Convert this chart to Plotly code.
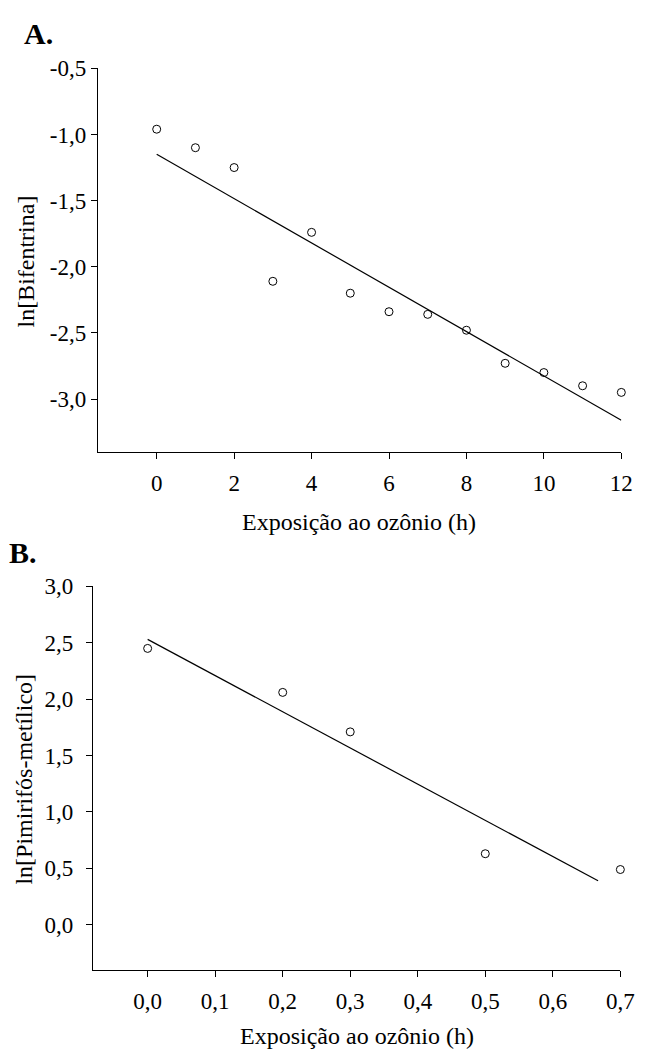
import plotly.graph_objects as go

# Panel A data: ln[Bifentrina] vs ozone exposure (h)
a_hours = [0, 1, 2, 3, 4, 5, 6, 7, 8, 9, 10, 11, 12]
a_ln = [-0.96, -1.10, -1.25, -2.11, -1.74, -2.20, -2.34, -2.36, -2.48, -2.73, -2.80, -2.90, -2.95]
a_fit_x = [0, 12]
a_fit_y = [-1.15, -3.16]

# Panel B data: ln[Pimirifós-metílico] vs ozone exposure (h)
b_hours = [0.0, 0.2, 0.3, 0.5, 0.7]
b_ln = [2.45, 2.06, 1.71, 0.63, 0.49]
b_fit_x = [0.0, 0.667]
b_fit_y = [2.53, 0.39]

a_xticks = [0, 2, 4, 6, 8, 10, 12]
a_xticklabels = ["0", "2", "4", "6", "8", "10", "12"]
a_yticks = [-0.5, -1.0, -1.5, -2.0, -2.5, -3.0]
a_yticklabels = ["-0,5", "-1,0", "-1,5", "-2,0", "-2,5", "-3,0"]
b_xticks = [0.0, 0.1, 0.2, 0.3, 0.4, 0.5, 0.6, 0.7]
b_xticklabels = ["0,0", "0,1", "0,2", "0,3", "0,4", "0,5", "0,6", "0,7"]
b_yticks = [0.0, 0.5, 1.0, 1.5, 2.0, 2.5, 3.0]
b_yticklabels = ["0,0", "0,5", "1,0", "1,5", "2,0", "2,5", "3,0"]

FONT = "Liberation Serif"
TICK = 23
TITLE = 24

fig = go.Figure()
marker = dict(symbol="circle-open", size=8, color="black", line=dict(width=1, color="black"))

fig.add_trace(go.Scatter(x=a_hours, y=a_ln, mode="markers", marker=marker, cliponaxis=False,
                         xaxis="x", yaxis="y", showlegend=False))
fig.add_trace(go.Scatter(x=a_fit_x, y=a_fit_y, mode="lines", line=dict(color="black", width=1.2),
                         xaxis="x", yaxis="y", showlegend=False))
fig.add_trace(go.Scatter(x=b_hours, y=b_ln, mode="markers", marker=marker, cliponaxis=False,
                         xaxis="x2", yaxis="y2", showlegend=False))
fig.add_trace(go.Scatter(x=b_fit_x, y=b_fit_y, mode="lines", line=dict(color="black", width=1.2),
                         xaxis="x2", yaxis="y2", showlegend=False))

W, H = 650, 1050
def px(x0, x1):
    return [x0 / W, x1 / W]
def py(top, bottom):
    return [1 - bottom / H, 1 - top / H]

axis_common = dict(showline=True, linecolor="black", linewidth=1.2, ticks="outside", ticklen=6, tickwidth=1,
                   tickcolor="black", showgrid=False, zeroline=False, mirror=False,
                   tickfont=dict(family=FONT, size=TICK, color="black"))

fig.update_layout(
    width=W, height=H, margin=dict(l=0, r=0, t=0, b=0),
    paper_bgcolor="white", plot_bgcolor="white",
    font=dict(family=FONT, color="black"),
    xaxis=dict(domain=px(100, 635), range=[-1.52, 12], tickvals=a_xticks, ticktext=a_xticklabels,
               anchor="y", ticklabelstandoff=4, **axis_common),
    yaxis=dict(domain=py(57, 445), range=[-3.4, -0.5], tickvals=a_yticks, ticktext=a_yticklabels,
               anchor="x", ticklabelstandoff=0, **axis_common),
    xaxis2=dict(domain=px(95, 634), range=[-0.081, 0.7], tickvals=b_xticks, ticktext=b_xticklabels,
                anchor="y2", ticklabelstandoff=4, **axis_common),
    yaxis2=dict(domain=py(581, 969), range=[-0.40, 3.0], tickvals=b_yticks, ticktext=b_yticklabels,
                anchor="x2", ticklabelstandoff=8, **axis_common),
)

def ann(text, x, y, size, bold=False, angle=0):
    fig.add_annotation(text=f"<b>{text}</b>" if bold else text, x=x / W, y=1 - y / H,
                       xref="paper", yref="paper", showarrow=False, textangle=angle,
                       xanchor="center", yanchor="middle",
                       font=dict(family=FONT, size=size, color="black"))

ann("A.", 39, 22, 30, bold=True)
ann("B.", 24, 547, 30, bold=True)
ann("Exposição ao ozônio (h)", 367, 516, TITLE)
ann("Exposição ao ozônio (h)", 365, 1036, TITLE)
ann("ln[Bifentrina]", 27, 252, TITLE, angle=-90)
ann("ln[Pimirifós-metílico]", 25, 776, TITLE, angle=-90)

fig.write_html("out.html")
